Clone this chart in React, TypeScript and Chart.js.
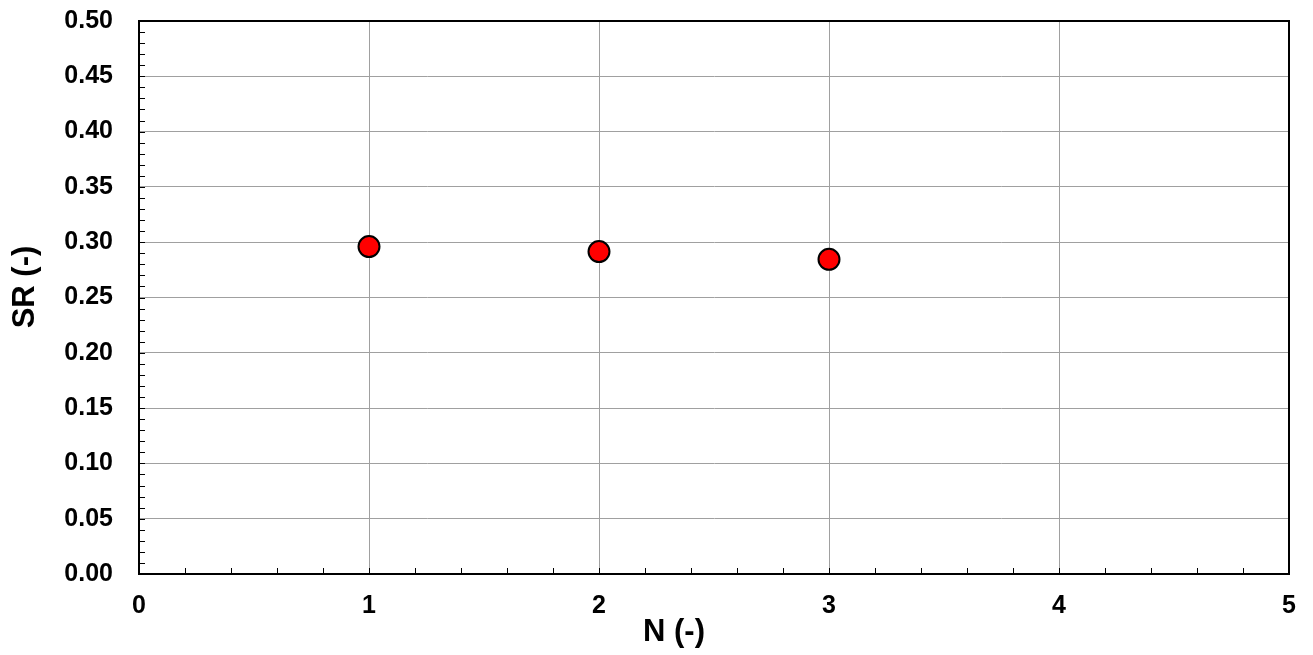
import React, { useEffect, useRef } from "react";
import { Chart, registerables } from "chart.js";

Chart.register(...registerables);

const nValues = [1, 2, 3];
const srValues = [0.296, 0.2915, 0.2845];
const xTitle = "N (-)";
const yTitle = "SR (-)";

const FONT = "Arial, 'Liberation Sans', sans-serif";

const decorPlugin = {
  id: "decor",
  afterDraw(chart: any) {
    const { ctx, chartArea: a, scales } = chart;
    const xs = scales.x;
    const ys = scales.y;
    ctx.save();
    ctx.strokeStyle = "#000";
    ctx.lineWidth = 1;
    for (let i = 0; i <= 50; i++) {
      const py = Math.round(ys.getPixelForValue(i * 0.01)) + 0.5;
      ctx.beginPath();
      ctx.moveTo(a.left, py);
      ctx.lineTo(a.left + 6, py);
      ctx.stroke();
    }
    for (let i = 0; i <= 25; i++) {
      const px = Math.round(xs.getPixelForValue(i * 0.2)) + 0.5;
      ctx.beginPath();
      ctx.moveTo(px, a.bottom);
      ctx.lineTo(px, a.bottom - 6);
      ctx.stroke();
    }
    ctx.lineWidth = 2;
    ctx.strokeRect(a.left, a.top, a.right - a.left, a.bottom - a.top);
    ctx.fillStyle = "#000";
    ctx.font = `bold 31px ${FONT}`;
    ctx.textAlign = "center";
    ctx.textBaseline = "middle";
    ctx.fillText(xTitle, a.left + (a.right - a.left) * 0.4652, 632);
    ctx.translate(25, a.top + (a.bottom - a.top) * 0.481);
    ctx.rotate(-Math.PI / 2);
    ctx.fillText(yTitle, 0, 0);
    ctx.restore();
  },
};

export default function App() {
  const ref = useRef<HTMLCanvasElement>(null);
  useEffect(() => {
    const canvas = ref.current!;
    const chart = new Chart(canvas, {
      type: "scatter",
      data: {
        datasets: [
          {
            data: nValues.map((n, i) => ({ x: n, y: srValues[i] })),
            backgroundColor: "#ff0000",
            borderColor: "#000000",
            borderWidth: 2,
            pointRadius: 10.5,
            pointHoverRadius: 10.5,
            showLine: false,
          },
        ],
      },
      options: {
        responsive: false,
        animation: false,
        events: [],
        layout: { padding: { top: 21, right: 24, left: 0, bottom: 0 } },
        plugins: { legend: { display: false }, tooltip: { enabled: false } },
        scales: {
          x: {
            type: "linear",
            min: 0,
            max: 5,
            afterFit: (s: any) => {
              s.height = 81;
              s.paddingLeft = 0;
              s.paddingRight = 0;
            },
            ticks: {
              stepSize: 1,
              padding: 17,
              color: "#000",
              font: { family: FONT, size: 25, weight: "bold" },
            },
            grid: { color: "#a0a0a0", lineWidth: 1, drawTicks: false },
            border: { display: true, color: "#000", width: 2 },
          },
          y: {
            type: "linear",
            min: 0,
            max: 0.5,
            afterFit: (s: any) => {
              s.width = 139;
              s.paddingTop = 0;
              s.paddingBottom = 0;
            },
            ticks: {
              stepSize: 0.05,
              padding: 26,
              color: "#000",
              font: { family: FONT, size: 25, weight: "bold" },
              callback: (v: any) => Number(v).toFixed(2),
            },
            grid: { color: "#a0a0a0", lineWidth: 1, drawTicks: false },
            border: { display: true, color: "#000", width: 2 },
          },
        },
      },
      plugins: [decorPlugin],
    });
    return () => chart.destroy();
  }, []);
  return (
    <div style={{ position: "fixed", left: 0, top: 0, width: 1313, height: 655, background: "#fff" }}>
      <canvas ref={ref} width={1313} height={655} style={{ display: "block" }} />
    </div>
  );
}
